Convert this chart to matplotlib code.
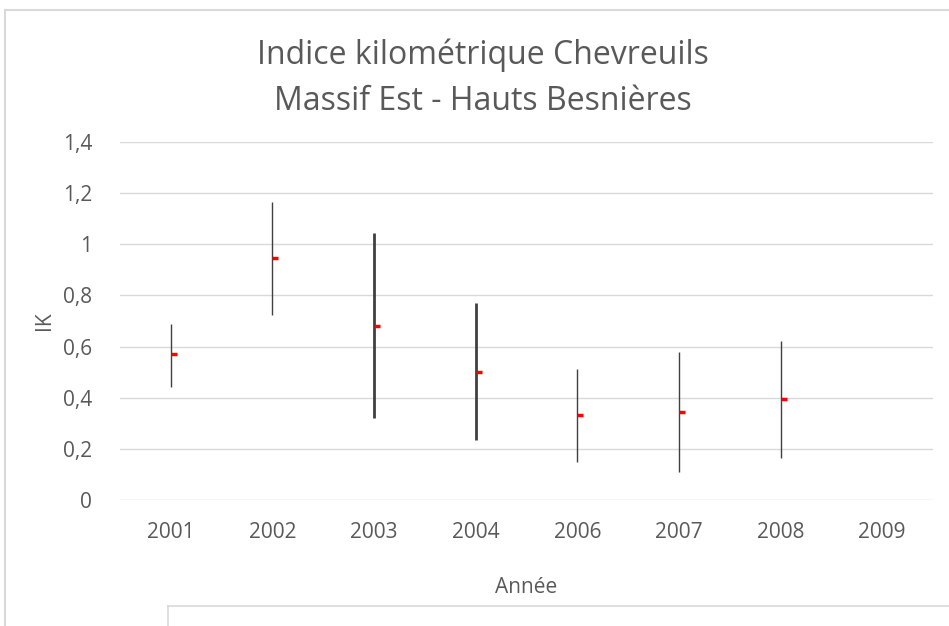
import matplotlib.pyplot as plt
import numpy as np

years = ["2001", "2002", "2003", "2004", "2006", "2007", "2008", "2009"]
ik_high = [0.688, 1.164, 1.043, 0.769, 0.512, 0.578, 0.622, np.nan]
ik_low = [0.442, 0.725, 0.319, 0.235, 0.150, 0.111, 0.165, np.nan]
ik_mean = [0.570, 0.945, 0.679, 0.499, 0.334, 0.343, 0.394, np.nan]

title = "Indice kilométrique Chevreuils\nMassif Est - Hauts Besnières"
yticks = [0, 0.2, 0.4, 0.6, 0.8, 1.0, 1.2, 1.4]

text_color = "#595959"
plt.rcParams["font.family"] = ["Open Sans", "DejaVu Sans"]

fig = plt.figure(figsize=(9.49, 6.26), dpi=100)
W, H = 949, 626

# chart border (light gray), partly cut off
fig.add_artist(plt.Line2D([5 / W, 5 / W], [0, 1 - 10 / H], color="#d9d9d9", lw=1.5))
fig.add_artist(plt.Line2D([5 / W, 1], [1 - 10 / H, 1 - 10 / H], color="#d9d9d9", lw=1.5))
# box of another element at the bottom
fig.add_artist(plt.Line2D([168 / W, 168 / W], [0, 1 - 606 / H], color="#d9d9d9", lw=1.2))
fig.add_artist(plt.Line2D([168 / W, 1], [1 - 606 / H, 1 - 606 / H], color="#d9d9d9", lw=1.2))

ax = fig.add_axes([120 / W, 1 - 500 / H, (933 - 120) / W, (500 - 142) / H])
x = np.arange(len(years))

# high-low lines, mean shown as a small red tick on the right
widths = [1.0, 1.0, 2.0, 2.0, 1.0, 1.0, 1.0, 1.0]
ax.vlines(x, ik_low, ik_high, colors="#404040", linewidths=widths, zorder=3)
ax.plot(x, ik_mean, linestyle="none", marker=1, markersize=4.5, mew=2.5,
        color="#ff0000", zorder=4)

ax.set_xlim(-0.5, len(years) - 0.5)
ax.set_ylim(0, 1.4)
ax.set_yticks(yticks)
ax.set_yticklabels([f"{v:g}".replace(".", ",") for v in yticks])
ax.set_xticks(x)
ax.set_xticklabels(years)
ax.grid(axis="y", color="#d9d9d9", lw=1)
ax.set_axisbelow(True)
for s in ax.spines.values():
    s.set_visible(False)
ax.tick_params(length=0, labelsize=15, colors=text_color)
ax.tick_params(axis="y", pad=20)
ax.tick_params(axis="x", pad=16)

ax.set_xlabel("Année", fontsize=15, color=text_color, labelpad=24)
ax.set_ylabel("IK", fontsize=15, color=text_color, labelpad=6)
fig.text(483 / W, 1 - 78 / H, title, ha="center", va="center", fontsize=23,
         color=text_color, linespacing=1.5)

fig.savefig("out.png", dpi=100)
